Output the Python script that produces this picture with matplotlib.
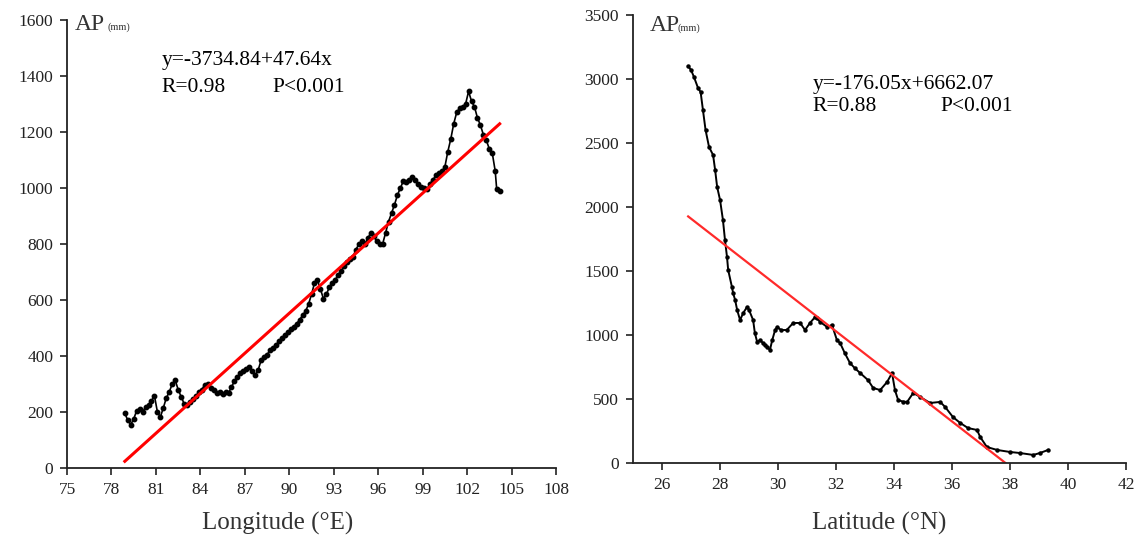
import numpy as np
import matplotlib
matplotlib.use("Agg")
import matplotlib.pyplot as plt

plt.rcParams['font.family'] = ['Liberation Serif', 'DejaVu Serif']

# Longitude gradient (left panel)
lon = [78.9, 79.1, 79.3, 79.5, 79.7, 79.9, 80.1, 80.3, 80.5, 80.7, 80.9, 81.1, 81.3, 81.5,
       81.7, 81.9, 82.1, 82.3, 82.5, 82.7, 82.9, 83.1, 83.3, 83.5, 83.7, 83.9, 84.1, 84.3,
       84.5, 84.7, 84.9, 85.1, 85.3, 85.5, 85.7, 85.9, 86.1, 86.3, 86.5, 86.7, 86.9, 87.1,
       87.3, 87.5, 87.7, 87.9, 88.1, 88.3, 88.5, 88.7, 88.9, 89.1, 89.3, 89.5, 89.7, 89.9,
       90.1, 90.3, 90.5, 90.7, 90.9, 91.1, 91.3, 91.5, 91.7, 91.9, 92.1, 92.3, 92.5, 92.7,
       92.9, 93.1, 93.3, 93.5, 93.7, 93.9, 94.1, 94.3, 94.5, 94.7, 94.9, 95.1, 95.3, 95.5,
       95.7, 95.9, 96.1, 96.3, 96.5, 96.7, 96.9, 97.1, 97.3, 97.5, 97.7, 97.9, 98.1, 98.3,
       98.5, 98.7, 98.9, 99.1, 99.3, 99.5, 99.7, 99.9, 100.1, 100.3, 100.5, 100.7, 100.9,
       101.1, 101.3, 101.5, 101.7, 101.9, 102.1, 102.3, 102.5, 102.7, 102.9, 103.1, 103.3,
       103.5, 103.7, 103.9, 104.0, 104.2]
ap_lon = [196, 170, 155, 175, 205, 212, 200, 218, 225, 240, 258, 200, 182, 215,
          250, 272, 300, 314, 280, 255, 230, 225, 235, 245, 258, 270, 280, 298,
          300, 285, 278, 268, 272, 265, 270, 268, 290, 310, 325, 340, 345, 355,
          360, 345, 332, 350, 385, 395, 405, 420, 430, 440, 452, 465, 475, 485,
          495, 505, 515, 530, 545, 560, 585, 620, 660, 670, 640, 605, 620, 645,
          660, 672, 690, 705, 720, 735, 745, 755, 780, 800, 810, 800, 820, 840,
          830, 810, 800, 800, 840, 880, 910, 940, 975, 1000, 1025, 1020, 1030, 1040,
          1030, 1015, 1005, 1000, 995, 1015, 1030, 1045, 1055, 1060, 1075, 1130, 1175,
          1230, 1270, 1285, 1290, 1300, 1345, 1310, 1290, 1250, 1225, 1190, 1170,
          1140, 1125, 1060, 995, 990]
fit_lon = [78.9, 104.2]
a_lon, b_lon = -3734.84, 47.64

# Latitude gradient (right panel)
lat = [26.9, 27.0, 27.1, 27.24, 27.33, 27.41, 27.5, 27.62, 27.76, 27.83, 27.9, 28.0,
       28.1, 28.17, 28.24, 28.28, 28.41, 28.45, 28.52, 28.59, 28.69, 28.8, 28.93, 29.0,
       29.14, 29.2, 29.28, 29.38, 29.48, 29.55, 29.62, 29.72, 29.8, 29.9, 29.97, 30.1,
       30.3, 30.52, 30.76, 30.93, 31.1, 31.28, 31.34, 31.45, 31.69, 31.86, 32.03, 32.14,
       32.3, 32.48, 32.65, 32.83, 33.1, 33.28, 33.52, 33.76, 33.93, 34.03, 34.14, 34.3,
       34.45, 34.66, 34.9, 35.24, 35.59, 35.76, 36.03, 36.28, 36.55, 36.86, 36.97, 37.2,
       37.55, 38.0, 38.34, 38.8, 39.03, 39.31]
ap_lat = [3100, 3070, 3016, 2930, 2898, 2758, 2602, 2469, 2406, 2289, 2156, 2055,
          1898, 1742, 1609, 1508, 1375, 1328, 1273, 1195, 1117, 1172, 1219, 1195,
          1117, 1016, 945, 960, 937, 920, 906, 883, 961, 1040, 1063, 1039,
          1039, 1094, 1094, 1039, 1094, 1141, 1130, 1102, 1063, 1078, 960, 937,
          859, 781, 740, 703, 648, 586, 570, 633, 703, 570, 492, 480,
          477, 547, 516, 469, 477, 438, 359, 313, 273, 258, 203, 125,
          102, 86, 78, 63, 78, 102]
fit_lat = [26.9, 37.84]
a_lat, b_lat = 6662.07, -176.05

fig = plt.figure(figsize=(11.4, 5.39), dpi=100)
ax1 = fig.add_axes([0.0588, 0.1317, 0.4289, 0.8312])
ax2 = fig.add_axes([0.5553, 0.1410, 0.4325, 0.8312])


def style(ax):
    for s in ['top', 'right']:
        ax.spines[s].set_visible(False)
    for s in ['left', 'bottom']:
        ax.spines[s].set_linewidth(1.3)
        ax.spines[s].set_color('#222222')
    ax.tick_params(direction='out', length=5, width=1.2, labelsize=12.5, pad=5,
                   colors='#222222')


def ap_label(ax, x, xmm, y):
    ax.text(x, y, 'AP', transform=ax.transAxes, fontsize=17, va='baseline',
            ha='left', color='#333333')
    ax.text(xmm, y, '(mm)', transform=ax.transAxes, fontsize=7.5, va='baseline',
            ha='left', color='#333333')


# left
ax1.plot(lon, ap_lon, color='black', lw=1.2, marker='o', ms=3.2)
fx = np.array(fit_lon)
ax1.plot(fx, a_lon + b_lon * fx, color='red', lw=2.2)
ax1.set_xlim(75, 108)
ax1.set_ylim(0, 1600)
ax1.set_xticks(np.arange(75, 109, 3))
ax1.set_yticks(np.arange(0, 1601, 200))
style(ax1)
ax1.set_xlabel('Longitude (°E)', fontsize=18, color='#333333')
ax1.xaxis.set_label_coords(0.431, -0.098)
ap_label(ax1, 0.016, 0.082, 0.978)
ax1.text(0.194, 0.900, 'y=-3734.84+47.64x', transform=ax1.transAxes, fontsize=15.5,
         va='baseline', ha='left')
ax1.text(0.194, 0.839, 'R=0.98', transform=ax1.transAxes, fontsize=15.5,
         va='baseline', ha='left')
ax1.text(0.421, 0.839, 'P<0.001', transform=ax1.transAxes, fontsize=15.5,
         va='baseline', ha='left')

# right
ax2.plot(lat, ap_lat, color='black', lw=1.4, marker='o', ms=2.2)
fx = np.array(fit_lat)
ax2.plot(fx, a_lat + b_lat * fx, color='#ff2a2a', lw=1.6)
ax2.set_xlim(25, 42)
ax2.set_ylim(0, 3500)
ax2.set_xticks(np.arange(26, 43, 2))
ax2.set_yticks(np.arange(0, 3501, 500))
style(ax2)
ax2.set_xlabel('Latitude (°N)', fontsize=18, color='#333333')
ax2.xaxis.set_label_coords(0.5, -0.109)
ap_label(ax2, 0.034, 0.091, 0.964)
ax2.text(0.365, 0.835, 'y=-176.05x+6662.07', transform=ax2.transAxes, fontsize=15.5,
         va='baseline', ha='left')
ax2.text(0.363, 0.786, 'R=0.88', transform=ax2.transAxes, fontsize=15.5,
         va='baseline', ha='left')
ax2.text(0.623, 0.786, 'P<0.001', transform=ax2.transAxes, fontsize=15.5,
         va='baseline', ha='left')

fig.savefig('out.png', dpi=100)
